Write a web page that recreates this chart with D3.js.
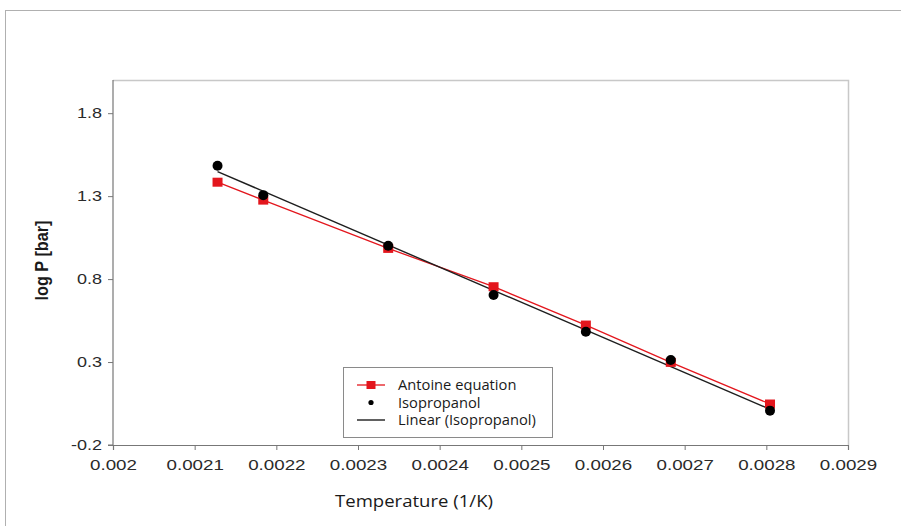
<!DOCTYPE html>
<html>
<head>
<meta charset="utf-8">
<script src="https://cdn.jsdelivr.net/npm/d3@7"></script>
<style>
  html, body { margin: 0; padding: 0; background: #fff; }
  svg { display: block; }
</style>
</head>
<body>
<svg id="chart" width="901" height="526"></svg>
<script>
// 1/T values (1/K)
const invT = [0.002128, 0.002184, 0.002337, 0.002466, 0.002579, 0.002683, 0.0028045];
// log P [bar] from Antoine equation
const antoine = [1.384, 1.276, 0.985, 0.754, 0.523, 0.298, 0.047];
// log P [bar] measured, Isopropanol
const isopropanol = [1.483, 1.306, 1.001, 0.704, 0.483, 0.312, 0.007];
const xTicks = [0.002, 0.0021, 0.0022, 0.0023, 0.0024, 0.0025, 0.0026, 0.0027, 0.0028, 0.0029];
const yTicks = [-0.2, 0.3, 0.8, 1.3, 1.8];
const legendLabels = ["Antoine equation", "Isopropanol", "Linear (Isopropanol)"];

const svg = d3.select("#chart");
const M = { left: 113, right: 848, top: 80, bottom: 445 };
const SANS = "Arial, 'Liberation Sans', Helvetica, sans-serif";

const x = d3.scaleLinear().domain([0.002, 0.0029]).range([M.left, M.right]);
const y = d3.scaleLinear().domain([-0.2, 2.0]).range([M.bottom, M.top]);

function stretch(sel, k) {
  sel.each(function () {
    const len = this.getComputedTextLength();
    d3.select(this).attr("textLength", len * k).attr("lengthAdjust", "spacingAndGlyphs");
  });
}

// outer frame
svg.append("rect").attr("x", 5.5).attr("y", 10.5).attr("width", 900).attr("height", 530)
  .attr("fill", "none").attr("stroke", "#b0b0b0").attr("stroke-width", 1);

// plot frame (top/right)
svg.append("path")
  .attr("d", `M${M.left},${M.top + 0.5}H${M.right + 0.5}V${M.bottom}`)
  .attr("fill", "none").attr("stroke", "#c8c8c8").attr("stroke-width", 1.5);

// axes
const xAxis = d3.axisBottom(x).tickValues(xTicks).tickSize(5).tickPadding(9)
  .tickFormat(d => String(+d.toFixed(4)));
const gx = svg.append("g").attr("transform", `translate(0,${M.bottom})`).call(xAxis);
const yAxis = d3.axisLeft(y).tickValues(yTicks).tickSize(5).tickPadding(6)
  .tickFormat(d => d.toFixed(1));
const gy = svg.append("g").attr("transform", `translate(${M.left},0)`).call(yAxis);

[gx, gy].forEach(g => {
  g.attr("font-family", SANS);
  g.select(".domain").attr("stroke", "#777").attr("stroke-width", 1.2);
  g.selectAll(".tick line").attr("stroke", "#777");
  g.selectAll(".tick text").attr("fill", "#2a2a2a")
    .style("font-family", SANS).style("font-size", "15px");
});
stretch(gx.selectAll(".tick text"), 1.25);
stretch(gy.selectAll(".tick text"), 1.2);
gy.select(".domain").attr("d", `M${-5},${M.bottom}H0V${M.top}`);

// axis titles
const xt = svg.append("text").attr("x", 414).attr("y", 507).attr("text-anchor", "middle")
  .style("font-family", "'Open Sans', sans-serif").style("font-size", "17px").attr("fill", "#1a1a1a")
  .text("Temperature (1/K)");
xt.attr("textLength", 158).attr("lengthAdjust", "spacingAndGlyphs");
svg.append("text").attr("transform", `translate(48,${(M.top + M.bottom) / 2 - 2}) rotate(-90)`)
  .attr("text-anchor", "middle")
  .style("font-family", SANS).style("font-size", "18px").style("font-weight", "bold")
  .attr("fill", "#1a1a1a").attr("textLength", 80).attr("lengthAdjust", "spacingAndGlyphs")
  .text("log P [bar]");

// linear regression of isopropanol
const n = invT.length;
const mx = d3.mean(invT), my = d3.mean(isopropanol);
let sxy = 0, sxx = 0;
for (let i = 0; i < n; i++) { sxy += (invT[i] - mx) * (isopropanol[i] - my); sxx += (invT[i] - mx) ** 2; }
const slope = sxy / sxx, icpt = my - slope * mx;
const fit = d3.extent(invT).map(v => [v, icpt + slope * v]);

const line = d3.line().x(d => x(d[0])).y(d => y(d[1]));

const aPts = invT.map((v, i) => [v, antoine[i]]);
const iPts = invT.map((v, i) => [v, isopropanol[i]]);

svg.append("path").datum(aPts).attr("d", line).attr("fill", "none")
  .attr("stroke", "#e3161d").attr("stroke-width", 1.3);
svg.append("path").datum(fit).attr("d", line).attr("fill", "none")
  .attr("stroke", "#1e1e1e").attr("stroke-width", 1.4);

svg.selectAll(".sq").data(aPts).enter().append("rect")
  .attr("x", d => x(d[0]) - 5).attr("y", d => y(d[1]) - 4.5)
  .attr("width", 10).attr("height", 9).attr("fill", "#e3161d");
svg.selectAll(".dot").data(iPts).enter().append("circle")
  .attr("cx", d => x(d[0])).attr("cy", d => y(d[1])).attr("r", 5).attr("fill", "#000");

// legend
const lg = svg.append("g");
lg.append("rect").attr("x", 343.5).attr("y", 367.5).attr("width", 209).attr("height", 70)
  .attr("fill", "#fff").attr("stroke", "#8a8a8a").attr("stroke-width", 1);
const ly = [385, 402.5, 420];
const lx0 = 357, lx1 = 385;
lg.append("line").attr("x1", lx0).attr("x2", lx1).attr("y1", ly[0]).attr("y2", ly[0])
  .attr("stroke", "#e3161d").attr("stroke-width", 1.3);
lg.append("rect").attr("x", (lx0 + lx1) / 2 - 4.5).attr("y", ly[0] - 4).attr("width", 9).attr("height", 8).attr("fill", "#e3161d");
lg.append("circle").attr("cx", (lx0 + lx1) / 2).attr("cy", ly[1]).attr("r", 2.6).attr("fill", "#000");
lg.append("line").attr("x1", lx0).attr("x2", lx1).attr("y1", ly[2]).attr("y2", ly[2])
  .attr("stroke", "#1e1e1e").attr("stroke-width", 1.4);
const lt = legendLabels.map((t, i) =>
  lg.append("text").attr("x", 398).attr("y", ly[i] + 5)
    .style("font-family", "'Open Sans', sans-serif").style("font-size", "14px").attr("fill", "#1a1a1a")
    .text(t));
stretch(lg.selectAll("text"), 1.05);
</script>
</body>
</html>
